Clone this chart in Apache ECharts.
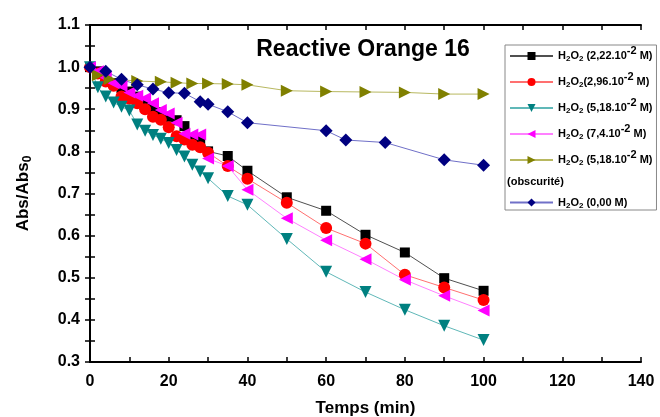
<!DOCTYPE html>
<html>
<head>
<meta charset="utf-8">
<script src="https://cdn.jsdelivr.net/npm/echarts@6/dist/echarts.min.js"></script>
<style>html,body{margin:0;padding:0;background:#fff}#c{width:660px;height:417px}</style>
</head>
<body>
<div id="c"></div>
<script>
var xTicks = [0, 20, 40, 60, 80, 100, 120, 140];
var yTicks = [0.3, 0.4, 0.5, 0.6, 0.7, 0.8, 0.9, 1.0, 1.1];

var tA = [0, 2, 4, 6, 8, 10, 12, 14, 16, 18, 20, 22, 24, 26, 28, 30, 35, 40, 50, 60, 70, 80, 90, 100];
var s222 = [1.0, 0.99, 0.975, 0.962, 0.95, 0.942, 0.93, 0.915, 0.9, 0.893, 0.882, 0.874, 0.86, 0.832, 0.825, 0.8, 0.789, 0.754, 0.691, 0.659, 0.602, 0.56, 0.499, 0.469];
var s296 = [1.0, 0.985, 0.966, 0.956, 0.93, 0.925, 0.914, 0.9, 0.882, 0.875, 0.857, 0.836, 0.828, 0.816, 0.81, 0.797, 0.765, 0.735, 0.678, 0.618, 0.581, 0.507, 0.477, 0.447];
var s518 = [1.0, 0.952, 0.93, 0.916, 0.906, 0.897, 0.864, 0.849, 0.839, 0.83, 0.82, 0.803, 0.788, 0.768, 0.752, 0.736, 0.694, 0.673, 0.592, 0.514, 0.466, 0.424, 0.386, 0.352];
var s74 = [1.0, 0.99, 0.975, 0.962, 0.955, 0.94, 0.932, 0.926, 0.914, 0.898, 0.89, 0.868, 0.842, 0.84, 0.84, 0.783, 0.765, 0.709, 0.641, 0.589, 0.544, 0.495, 0.457, 0.422];
var tDark = [2, 5, 12, 18, 22, 26, 30, 35, 40, 50, 60, 70, 80, 90, 100];
var sDark = [0.981, 0.972, 0.967, 0.965, 0.963, 0.961, 0.961, 0.96, 0.958, 0.944, 0.942, 0.941, 0.94, 0.936, 0.936];
var tZero = [0, 4, 8, 12, 16, 20, 24, 28, 30, 35, 40, 60, 65, 75, 90, 100];
var sZero = [1.0, 0.99, 0.971, 0.958, 0.948, 0.939, 0.938, 0.918, 0.912, 0.894, 0.868, 0.849, 0.827, 0.821, 0.78, 0.767];

var names = ['n1', 'n2', 'n3', 'n4', 'n5', 'n6'];
var labels = {
  n1: '{b|H}{s|2}{b|O}{s|2}{b| (2,22.10}{p|-2}{b| M)}',
  n2: '{b|H}{s|2}{b|O}{s|2}{b|(2,96.10}{p|-2}{b| M)}',
  n3: '{b|H}{s|2}{b|O}{s|2}{b| (5,18.10}{p|-2}{b| M)}',
  n4: '{b|H}{s|2}{b|O}{s|2}{b| (7,4.10}{p|-2}{b| M)}',
  n5: '{b|H}{s|2}{b|O}{s|2}{b| (5,18.10}{p|-2}{b| M)}',
  n6: '{b|H}{s|2}{b|O}{s|2}{b| (0,00 M)}'
};

function pairs(t, v) { return t.map(function (x, i) { return [x, v[i]]; }); }

var FONT = 'Liberation Sans, Arial, sans-serif';
var rich = {
  b: { fontSize: 11, fontWeight: 'bold', fontFamily: FONT, color: '#000' },
  s: { fontSize: 8, fontWeight: 'bold', fontFamily: FONT, color: '#000', padding: [6, 0, 0, 0] },
  p: { fontSize: 11, fontWeight: 'bold', fontFamily: FONT, color: '#000', padding: [0, 0, 11, 0] }
};

function ser(name, data, color, lineColor, symbol, size, rot) {
  return {
    name: name, type: 'line', data: data, symbol: symbol, symbolSize: size, symbolRotate: rot || 0,
    itemStyle: { color: color }, lineStyle: { color: lineColor, width: 1 },
    emphasis: { disabled: true }, animation: false
  };
}

var chart = echarts.init(document.getElementById('c'));
chart.setOption({
  backgroundColor: '#fff',
  animation: false,
  title: { text: 'Reactive Orange 16', left: 358, top: 33, textAlign: 'center',
    textStyle: { fontSize: 23, fontWeight: 'bold', fontFamily: FONT, color: '#000' } },
  grid: { left: 90, right: 19, top: 25, bottom: 55, outerBoundsMode: 'none', containLabel: false },
  xAxis: [{
    type: 'value', min: xTicks[0], max: xTicks[xTicks.length - 1], interval: 20,
    name: 'Temps (min)', nameLocation: 'middle', nameGap: 38,
    nameTextStyle: { fontSize: 17, fontWeight: 'bold', fontFamily: FONT, color: '#000' },
    axisLine: { lineStyle: { color: '#000', width: 2 } },
    axisTick: { inside: true, length: 5, lineStyle: { color: '#000', width: 1.5 } },
    minorTick: { show: true, splitNumber: 2, length: 5, lineStyle: { color: '#000', width: 1.5 } },
    axisLabel: { fontSize: 16, fontWeight: 'bold', fontFamily: FONT, color: '#000', margin: 12 },
    splitLine: { show: false }
  }, {
    type: 'value', position: 'top', min: 0, max: 140, interval: 20,
    axisLine: { lineStyle: { color: '#000', width: 2 } },
    axisTick: { inside: true, length: 5, lineStyle: { color: '#000', width: 1.5 } },
    minorTick: { show: true, splitNumber: 2, length: 5, lineStyle: { color: '#000', width: 1.5 } },
    axisLabel: { show: false }, splitLine: { show: false }
  }],
  yAxis: [{
    type: 'value', min: yTicks[0], max: yTicks[yTicks.length - 1], interval: 0.1,
    name: '{a|Abs/Abs}{s|0}', nameLocation: 'middle', nameGap: 56,
    nameTextStyle: { rich: {
      a: { fontSize: 17, fontWeight: 'bold', fontFamily: FONT, color: '#000' },
      s: { fontSize: 12, fontWeight: 'bold', fontFamily: FONT, color: '#000', padding: [9, 0, 0, 0] } } },
    axisLine: { lineStyle: { color: '#000', width: 2 } },
    axisTick: { inside: true, length: 5, lineStyle: { color: '#000', width: 1.5 } },
    minorTick: { show: true, splitNumber: 2, length: 5, lineStyle: { color: '#000', width: 1.5 } },
    axisLabel: { fontSize: 16, fontWeight: 'bold', fontFamily: FONT, color: '#000', margin: 10,
      formatter: function (v) { return v.toFixed(1); } },
    splitLine: { show: false }
  }, {
    type: 'value', position: 'right', min: 0.3, max: 1.1, interval: 0.1,
    axisLine: { lineStyle: { color: '#000', width: 2 } },
    axisTick: { inside: true, length: 5, lineStyle: { color: '#000', width: 1.5 } },
    minorTick: { show: true, splitNumber: 2, length: 5, lineStyle: { color: '#000', width: 1.5 } },
    axisLabel: { show: false }, splitLine: { show: false }
  }],
  legend: [{
    data: names.slice(0, 5), orient: 'vertical', left: 505, top: 45,
    itemWidth: 43, itemHeight: 10, itemGap: 8,
    padding: [0, 4, 43, 4],
    backgroundColor: '#fff', borderColor: '#888', borderWidth: 1, borderRadius: 0,
    formatter: function (n) { return labels[n]; },
    textStyle: { rich: rich }, selectedMode: false
  }, {
    data: [names[5]], orient: 'vertical', left: 505, top: 197,
    itemWidth: 43, itemHeight: 10, padding: [0, 4, 0, 4],
    formatter: function (n) { return labels[n]; },
    textStyle: { rich: rich }, selectedMode: false
  }],
  graphic: [{
    type: 'text', left: 507, top: 176, z: 100,
    style: { text: '(obscurité)', font: 'bold 11px ' + FONT, fill: '#000' }
  }],
  series: [
    ser('n1', pairs(tA, s222), '#000000', '#505050', 'rect', 10),
    ser('n2', pairs(tA, s296), '#ff0000', '#ff7070', 'circle', 12),
    ser('n3', pairs(tA, s518), '#008080', '#60b8b8', 'triangle', 12, 180),
    ser('n4', pairs(tA, s74), '#ff00ff', '#ff80ff', 'triangle', 12, 90),
    ser('n5', pairs(tDark, sDark), '#808000', '#b8b860', 'triangle', 12, -90),
    ser('n6', pairs(tZero, sZero), '#000080', '#7070c8', 'diamond', 13)
  ]
});
</script>
</body>
</html>
